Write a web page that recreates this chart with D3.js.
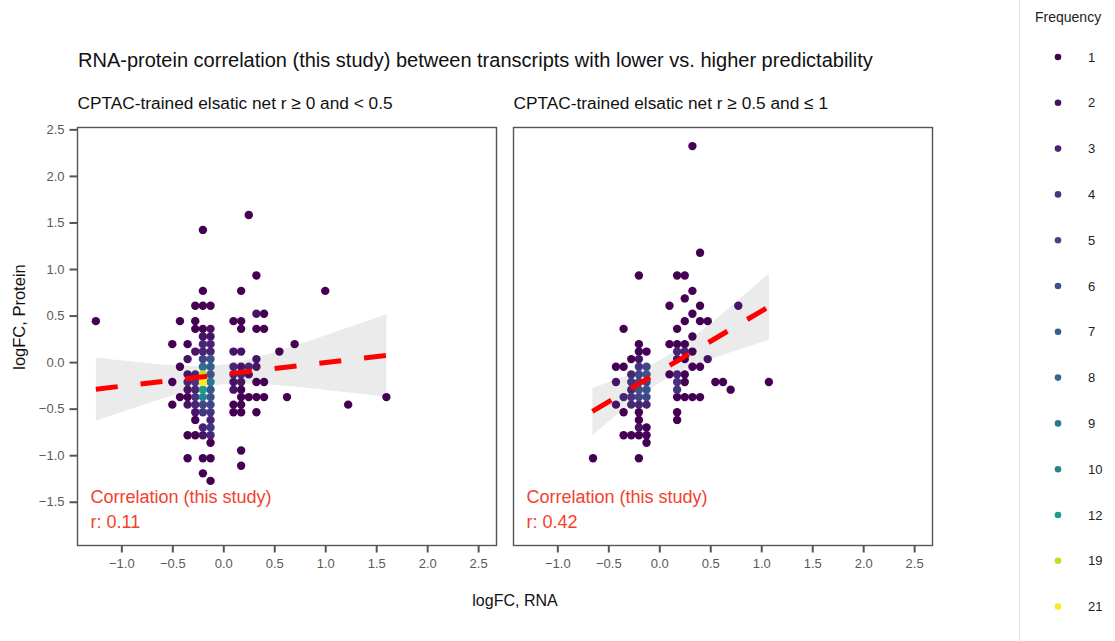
<!DOCTYPE html>
<html>
<head>
<meta charset="utf-8">
<title>RNA-protein correlation</title>
<script src="https://d3js.org/d3.v7.min.js"></script>
<style>
  body { margin: 0; background: #fff; }
  svg text { font-family: "Liberation Sans", Arial, sans-serif; }
  .tick-label { fill: #5a5a5a; font-size: 13px; }
  .note { fill: #f2412d; font-size: 18px; }
</style>
</head>
<body>
<svg id="chart" width="1115" height="641"></svg>
<script>
// ---- data ----
// each row: [logFC RNA, logFC protein, frequency]
var leftPoints = [
  [0.25, 1.58, 1], [-0.2, 1.42, 1], [0.325, 0.93, 1],
  [-0.2, 0.765, 1], [0.175, 0.765, 1], [1.0, 0.765, 1],
  [-0.275, 0.605, 1], [-0.2, 0.605, 1], [-0.125, 0.605, 1],
  [0.325, 0.52, 2], [0.4, 0.52, 1],
  [-1.25, 0.44, 1], [-0.425, 0.44, 1], [-0.275, 0.44, 1], [0.1, 0.44, 1], [0.175, 0.44, 1],
  [-0.275, 0.357, 1], [-0.2, 0.357, 1], [-0.125, 0.357, 2], [0.175, 0.357, 1], [0.325, 0.357, 1], [0.4, 0.357, 1],
  [-0.2, 0.275, 2], [-0.125, 0.275, 2],
  [-0.5, 0.193, 1], [-0.35, 0.193, 1], [-0.2, 0.193, 3], [-0.125, 0.193, 3], [0.7, 0.193, 1],
  [-0.275, 0.113, 2], [-0.2, 0.113, 3], [-0.125, 0.113, 3], [0.1, 0.113, 2], [0.175, 0.113, 2], [0.55, 0.113, 1],
  [-0.35, 0.032, 2], [-0.2, 0.032, 5], [-0.125, 0.032, 6], [0.325, 0.032, 2],
  [-0.425, -0.05, 1], [-0.2, -0.05, 8], [-0.125, -0.05, 7], [0.1, -0.05, 3], [0.175, -0.05, 2], [0.25, -0.05, 3], [0.325, -0.05, 2],
  [-0.35, -0.132, 2], [-0.275, -0.132, 3], [-0.2, -0.132, 19], [-0.125, -0.132, 6], [0.1, -0.132, 3], [0.175, -0.132, 3], [0.25, -0.132, 2],
  [-0.5, -0.214, 1], [-0.35, -0.214, 3], [-0.275, -0.214, 4], [-0.2, -0.214, 21], [-0.125, -0.214, 9], [0.1, -0.214, 2], [0.175, -0.214, 2], [0.325, -0.214, 1], [0.4, -0.214, 1],
  [-0.35, -0.296, 2], [-0.275, -0.296, 3], [-0.2, -0.296, 12], [-0.125, -0.296, 6], [0.1, -0.296, 2], [0.175, -0.296, 1],
  [-0.425, -0.376, 1], [-0.35, -0.376, 1], [-0.275, -0.376, 4], [-0.2, -0.376, 10], [-0.125, -0.376, 6], [0.175, -0.376, 1], [0.25, -0.376, 1], [0.325, -0.376, 1], [0.4, -0.376, 1], [0.625, -0.376, 1], [1.6, -0.376, 1],
  [-0.5, -0.457, 1], [-0.35, -0.457, 2], [-0.275, -0.457, 3], [-0.2, -0.457, 5], [-0.125, -0.457, 5], [0.1, -0.457, 1], [0.175, -0.457, 1], [1.225, -0.457, 1],
  [-0.275, -0.539, 2], [-0.2, -0.539, 4], [-0.125, -0.539, 4], [0.1, -0.539, 1], [0.175, -0.539, 1], [0.325, -0.539, 1],
  [-0.275, -0.621, 1], [-0.125, -0.621, 3],
  [-0.2, -0.703, 3], [-0.125, -0.703, 4],
  [-0.35, -0.785, 1], [-0.275, -0.785, 1], [-0.2, -0.785, 2], [-0.125, -0.785, 3],
  [-0.125, -0.867, 1], [0.175, -0.95, 1],
  [-0.35, -1.032, 1], [-0.2, -1.032, 1], [-0.125, -1.032, 1],
  [0.175, -1.114, 1], [-0.2, -1.195, 1], [-0.125, -1.276, 1]
];

var rightPoints = [
  [0.325, 2.32, 1], [0.4, 1.175, 1],
  [-0.2, 0.93, 1], [0.175, 0.93, 1], [0.25, 0.93, 1],
  [0.325, 0.765, 1], [0.25, 0.684, 1],
  [0.1, 0.605, 1], [0.4, 0.605, 1], [0.775, 0.605, 2],
  [0.325, 0.52, 1],
  [0.25, 0.44, 1], [0.4, 0.44, 1], [0.475, 0.44, 1],
  [-0.35, 0.357, 1], [0.175, 0.357, 1],
  [0.325, 0.275, 1],
  [-0.2, 0.193, 1], [0.1, 0.193, 1], [0.175, 0.193, 1], [0.25, 0.193, 1],
  [-0.2, 0.113, 1], [-0.125, 0.113, 1], [0.175, 0.113, 3], [0.25, 0.113, 3], [0.325, 0.113, 1],
  [-0.275, 0.032, 1], [-0.2, 0.032, 2], [0.175, 0.032, 2], [0.25, 0.032, 1], [0.475, 0.032, 2],
  [-0.425, -0.05, 1], [-0.35, -0.05, 1], [-0.2, -0.05, 4], [-0.125, -0.05, 5], [0.325, -0.05, 1], [0.4, -0.05, 1],
  [-0.275, -0.132, 3], [-0.2, -0.132, 5], [-0.125, -0.132, 6], [0.1, -0.132, 1], [0.175, -0.132, 3], [0.25, -0.132, 1],
  [-0.425, -0.214, 2], [-0.275, -0.214, 4], [-0.2, -0.214, 5], [-0.125, -0.214, 5], [0.175, -0.214, 4], [0.25, -0.214, 1], [0.55, -0.214, 1], [0.625, -0.214, 1], [1.075, -0.214, 1],
  [-0.275, -0.296, 3], [-0.2, -0.296, 6], [-0.125, -0.296, 6], [0.175, -0.296, 4], [0.7, -0.296, 1],
  [-0.35, -0.376, 3], [-0.275, -0.376, 4], [-0.2, -0.376, 5], [-0.125, -0.376, 5], [0.175, -0.376, 1], [0.25, -0.376, 1], [0.325, -0.376, 1], [0.4, -0.376, 1],
  [-0.425, -0.457, 2], [-0.275, -0.457, 3], [-0.2, -0.457, 3], [-0.125, -0.457, 3],
  [-0.35, -0.539, 1], [-0.2, -0.539, 1], [0.175, -0.539, 1],
  [-0.2, -0.621, 1], [0.175, -0.621, 1],
  [-0.2, -0.703, 2], [-0.125, -0.703, 1],
  [-0.35, -0.785, 1], [-0.275, -0.785, 1], [-0.2, -0.785, 1], [-0.125, -0.785, 1],
  [-0.125, -0.867, 1],
  [-0.65, -1.032, 1], [-0.2, -1.032, 1]
];

// linear fit per panel (intercept, slope) and its confidence band
var fitIntercept = [-0.132, -0.103];
var fitSlope = [0.127, 0.65];
var fitXRange = [[-1.25, 1.6], [-0.656, 1.075]];
var fitXMean = [-0.03, 0.04];
var fitSeMin = [0.105, 0.12];
var fitSeSlope = [0.265, 0.324];

var panelTitles = ["CPTAC-trained elsatic net r \u2265 0 and < 0.5", "CPTAC-trained elsatic net r \u2265 0.5 and \u2264 1"];
var corrValues = ["0.11", "0.42"];
var xTicks = [-1.0, -0.5, 0.0, 0.5, 1.0, 1.5, 2.0, 2.5];
var yTicks = [-1.5, -1.0, -0.5, 0.0, 0.5, 1.0, 1.5, 2.0, 2.5];
var freqLevels = [1, 2, 3, 4, 5, 6, 7, 8, 9, 10, 12, 19, 21];

// ---- layout ----
var svg = d3.select("#chart");
var panelLeft = [77.5, 513.5];
var panelW = 419, panelTop = 127.5, panelH = 418;

var color = d3.scaleSequential(d3.interpolateViridis).domain([1, 21]);
var y = d3.scaleLinear().domain([-1.97, 2.52]).range([panelTop + panelH, panelTop]);
var fmt = function(d) { return d3.format(".1f")(d).replace("-", "\u2212"); };

svg.append("text")
  .attr("x", 78).attr("y", 67)
  .style("font-size", "20px").style("fill", "#111")
  .text("RNA-protein correlation (this study) between transcripts with lower vs. higher predictability");

[leftPoints, rightPoints].forEach(function(points, p) {
  var x0 = panelLeft[p];
  var x = d3.scaleLinear().domain([-1.43, 2.68]).range([x0, x0 + panelW]);
  var g = svg.append("g");

  // subtitle
  svg.append("text")
    .attr("x", x0).attr("y", 109)
    .style("font-size", "17.3px").style("fill", "#111")
    .text(panelTitles[p]);

  // confidence band
  var xs = d3.range(0, 41).map(function(i) {
    return fitXRange[p][0] + (fitXRange[p][1] - fitXRange[p][0]) * i / 40;
  });
  var fitY = function(v) { return fitIntercept[p] + fitSlope[p] * v; };
  var se = function(v) {
    return Math.sqrt(fitSeMin[p] * fitSeMin[p] + Math.pow(fitSeSlope[p] * (v - fitXMean[p]), 2));
  };
  g.append("path")
    .datum(xs)
    .attr("fill", "#ebebeb")
    .attr("d", d3.area()
      .x(function(v) { return x(v); })
      .y0(function(v) { return y(fitY(v) - se(v)); })
      .y1(function(v) { return y(fitY(v) + se(v)); }));

  // points, frequent ones drawn last
  g.selectAll("circle")
    .data(points.slice().sort(function(a, b) { return a[2] - b[2]; }))
    .enter().append("circle")
    .attr("cx", function(d) { return x(d[0]); })
    .attr("cy", function(d) { return y(d[1]); })
    .attr("r", 4.2)
    .attr("fill", function(d) { return color(d[2]); });

  // dashed fit line
  g.append("path")
    .datum(fitXRange[p])
    .attr("fill", "none")
    .attr("stroke", "#ff0000")
    .attr("stroke-width", 5)
    .attr("stroke-dasharray", "22,23")
    .attr("d", d3.line().x(function(v) { return x(v); }).y(function(v) { return y(fitY(v)); }));

  // frame
  svg.append("rect")
    .attr("x", x0).attr("y", panelTop)
    .attr("width", panelW).attr("height", panelH)
    .attr("fill", "none").attr("stroke", "#555").attr("stroke-width", 1.4);

  // x axis
  var xa = svg.append("g").attr("transform", "translate(0," + (panelTop + panelH) + ")")
    .call(d3.axisBottom(x).tickValues(xTicks).tickSize(7).tickPadding(6).tickFormat(fmt));
  xa.select(".domain").remove();
  xa.selectAll("line").attr("stroke", "#555").attr("stroke-width", 2);
  xa.selectAll("text").attr("class", "tick-label").attr("fill", null);

  // y axis only on the left panel
  if (p === 0) {
    var ya = svg.append("g").attr("transform", "translate(" + x0 + ",0)")
      .call(d3.axisLeft(y).tickValues(yTicks).tickSize(8).tickPadding(5).tickFormat(fmt));
    ya.select(".domain").remove();
    ya.selectAll("line").attr("stroke", "#555").attr("stroke-width", 2);
    ya.selectAll("text").attr("class", "tick-label").attr("fill", null);
  }

  // correlation note
  svg.append("text").attr("class", "note")
    .attr("x", x0 + 13).attr("y", 503)
    .text("Correlation (this study)");
  svg.append("text").attr("class", "note")
    .attr("x", x0 + 13).attr("y", 528)
    .text("r: " + corrValues[p]);
});

// axis titles
svg.append("text")
  .attr("x", 515).attr("y", 606)
  .attr("text-anchor", "middle")
  .style("font-size", "16px").style("fill", "#111")
  .text("logFC, RNA");
svg.append("text")
  .attr("transform", "translate(25,317) rotate(-90)")
  .attr("text-anchor", "middle")
  .style("font-size", "16.5px").style("fill", "#111")
  .text("logFC, Protein");

// legend
svg.append("line")
  .attr("x1", 1019.5).attr("x2", 1019.5).attr("y1", 0).attr("y2", 641)
  .attr("stroke", "#e3e3e3");
svg.append("text")
  .attr("x", 1035).attr("y", 22)
  .style("font-size", "14px").style("fill", "#222")
  .text("Frequency");
var leg = svg.selectAll("g.leg")
  .data(freqLevels).enter().append("g")
  .attr("class", "leg")
  .attr("transform", function(d, i) { return "translate(0," + (57 + i * 45.8) + ")"; });
leg.append("circle")
  .attr("cx", 1058).attr("cy", 0).attr("r", 3.3)
  .attr("fill", function(d) { return color(d); });
leg.append("text")
  .attr("x", 1088).attr("y", 4.5)
  .style("font-size", "13px").style("fill", "#222")
  .text(function(d) { return d; });
</script>
</body>
</html>
